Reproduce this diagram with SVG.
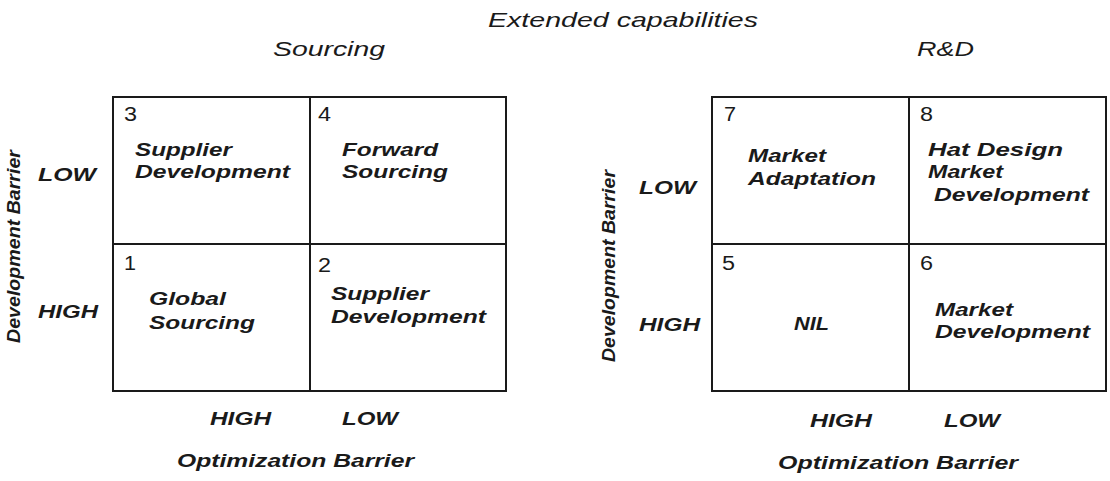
<svg xmlns="http://www.w3.org/2000/svg" width="1110" height="481" viewBox="0 0 1110 481">
<style>
.t{font-family:"Liberation Sans",Arial,sans-serif;fill:#1a1a1a}
.h{font-size:21px;font-style:italic}
.n{font-size:20px}
.b{font-size:18.5px;font-weight:bold;font-style:italic}
.v{font-size:19px;font-weight:bold;font-style:italic}
.g{fill:none;stroke:#1a1a1a;stroke-width:2}
</style>
<rect width="1110" height="481" fill="#fff"/>
<text class="t h" x="488" y="27" textLength="270" lengthAdjust="spacingAndGlyphs">Extended capabilities</text>
<text class="t h" x="273" y="56" textLength="112" lengthAdjust="spacingAndGlyphs">Sourcing</text>
<text class="t h" x="917" y="56" textLength="57" lengthAdjust="spacingAndGlyphs">R&amp;D</text>

<g id="sourcing-grid">
<rect class="g" x="113" y="97" width="393" height="294"/>
<line class="g" x1="310" y1="97" x2="310" y2="391"/>
<line class="g" x1="113" y1="244" x2="506" y2="244"/>
</g>
<g id="q3"><text class="t n" x="124" y="121" textLength="13" lengthAdjust="spacingAndGlyphs">3</text>
<text class="t b" x="135" y="156" textLength="97" lengthAdjust="spacingAndGlyphs">Supplier</text><text class="t b" x="135" y="178" textLength="155" lengthAdjust="spacingAndGlyphs">Development</text></g>
<g id="q4"><text class="t n" x="318" y="121" textLength="13" lengthAdjust="spacingAndGlyphs">4</text>
<text class="t b" x="342" y="156" textLength="96" lengthAdjust="spacingAndGlyphs">Forward</text><text class="t b" x="342" y="178" textLength="106" lengthAdjust="spacingAndGlyphs">Sourcing</text></g>
<g id="q1"><text class="t n" x="124" y="270" textLength="12" lengthAdjust="spacingAndGlyphs">1</text>
<text class="t b" x="149" y="305" textLength="77" lengthAdjust="spacingAndGlyphs">Global</text><text class="t b" x="149" y="329" textLength="106" lengthAdjust="spacingAndGlyphs">Sourcing</text></g>
<g id="q2"><text class="t n" x="318" y="272" textLength="13" lengthAdjust="spacingAndGlyphs">2</text>
<text class="t b" x="331" y="300" textLength="98" lengthAdjust="spacingAndGlyphs">Supplier</text><text class="t b" x="331" y="323" textLength="155" lengthAdjust="spacingAndGlyphs">Development</text></g>
<g id="sourcing-axes">
<text class="t b" x="38" y="181" textLength="58" lengthAdjust="spacingAndGlyphs">LOW</text>
<text class="t b" x="38" y="318" textLength="60" lengthAdjust="spacingAndGlyphs">HIGH</text>
<text class="t v" transform="translate(20,247) rotate(-90)" x="-96" textLength="193" lengthAdjust="spacingAndGlyphs">Development Barrier</text>
<text class="t b" x="210" y="425" textLength="61" lengthAdjust="spacingAndGlyphs">HIGH</text>
<text class="t b" x="342" y="425" textLength="56" lengthAdjust="spacingAndGlyphs">LOW</text>
<text class="t b" x="177" y="467" textLength="237" lengthAdjust="spacingAndGlyphs">Optimization Barrier</text>
</g>

<g id="rd-grid">
<rect class="g" x="712" y="97" width="394" height="294"/>
<line class="g" x1="909" y1="97" x2="909" y2="391"/>
<line class="g" x1="712" y1="244" x2="1106" y2="244"/>
</g>
<g id="q7"><text class="t n" x="724" y="121" textLength="12" lengthAdjust="spacingAndGlyphs">7</text>
<text class="t b" x="748" y="162" textLength="78" lengthAdjust="spacingAndGlyphs">Market</text><text class="t b" x="748" y="185" textLength="128" lengthAdjust="spacingAndGlyphs">Adaptation</text></g>
<g id="q8"><text class="t n" x="920" y="121" textLength="13" lengthAdjust="spacingAndGlyphs">8</text>
<text class="t b" x="928" y="156" textLength="135" lengthAdjust="spacingAndGlyphs">Hat Design</text><text class="t b" x="928" y="178" textLength="75" lengthAdjust="spacingAndGlyphs">Market</text><text class="t b" x="934" y="201" textLength="155" lengthAdjust="spacingAndGlyphs">Development</text></g>
<g id="q5"><text class="t n" x="722" y="270" textLength="13" lengthAdjust="spacingAndGlyphs">5</text>
<text class="t b" x="794" y="330" textLength="35" lengthAdjust="spacingAndGlyphs">NIL</text></g>
<g id="q6"><text class="t n" x="920" y="270" textLength="13" lengthAdjust="spacingAndGlyphs">6</text>
<text class="t b" x="935" y="316" textLength="78" lengthAdjust="spacingAndGlyphs">Market</text><text class="t b" x="935" y="338" textLength="155" lengthAdjust="spacingAndGlyphs">Development</text></g>
<g id="rd-axes">
<text class="t b" x="639" y="194" textLength="57" lengthAdjust="spacingAndGlyphs">LOW</text>
<text class="t b" x="639" y="331" textLength="61" lengthAdjust="spacingAndGlyphs">HIGH</text>
<text class="t v" transform="translate(615,266) rotate(-90)" x="-96" textLength="192" lengthAdjust="spacingAndGlyphs">Development Barrier</text>
<text class="t b" x="810" y="427" textLength="62" lengthAdjust="spacingAndGlyphs">HIGH</text>
<text class="t b" x="944" y="427" textLength="56" lengthAdjust="spacingAndGlyphs">LOW</text>
<text class="t b" x="778" y="469" textLength="240" lengthAdjust="spacingAndGlyphs">Optimization Barrier</text>
</g>
<g id="connectors"/>
</svg>
